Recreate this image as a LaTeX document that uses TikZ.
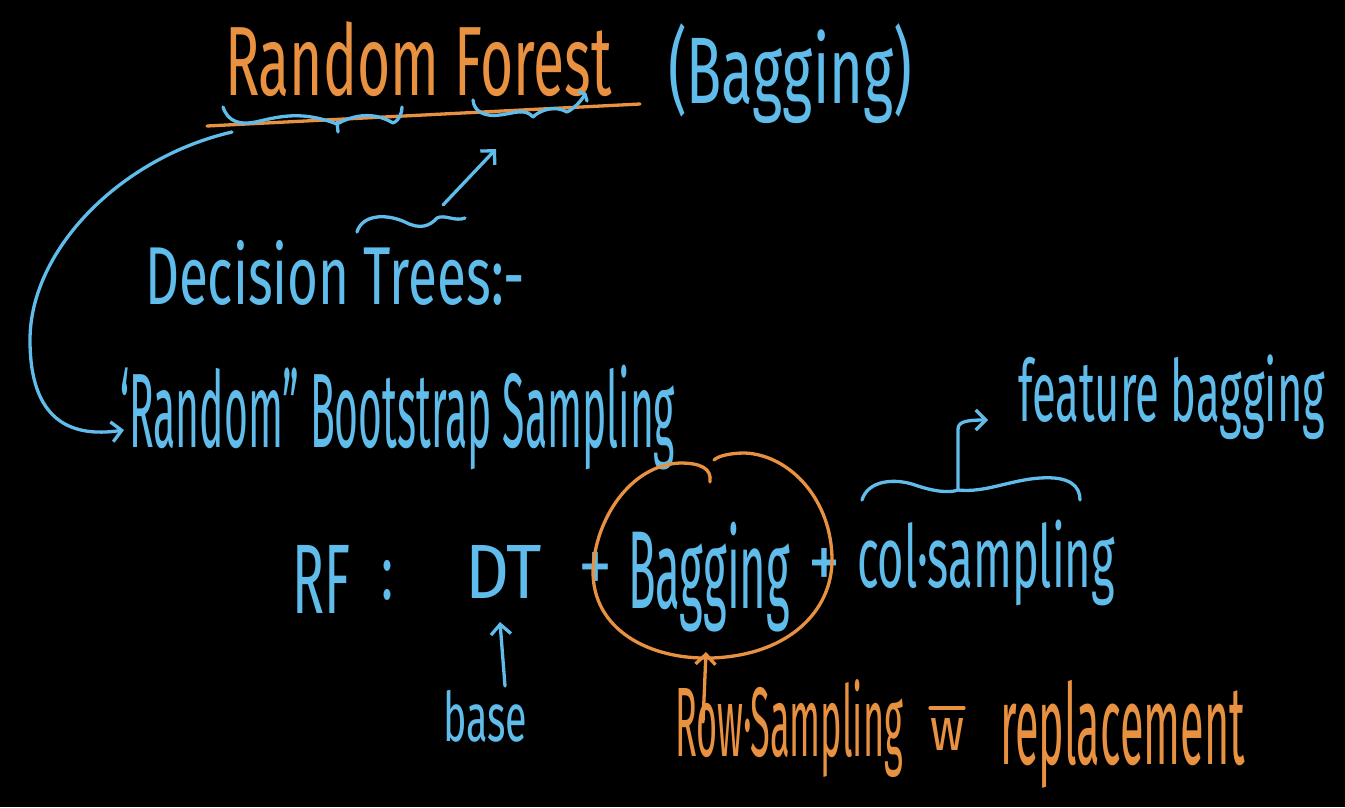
\documentclass[tikz,border=0pt]{standalone}
\usepackage{fontspec}
\usepackage{graphicx}
\setmainfont{Fira Sans}
\usetikzlibrary{arrows.meta}
\definecolor{chalkblue}{RGB}{96,188,234}
\definecolor{chalkorange}{RGB}{232,145,64}
\newcommand{\fitbox}[3]{\resizebox*{#1pt}{#2pt}{#3}}
\begin{document}
\begin{tikzpicture}[x=1pt,y=-1pt,
  txt/.style={inner sep=0pt,outer sep=0pt,anchor=north west},
  bluetxt/.style={txt,text=chalkblue},
  orangetxt/.style={txt,text=chalkorange},
  pen/.style={line width=3.3pt,line cap=round,line join=round},
  bluepen/.style={pen,draw=chalkblue},
  orangepen/.style={pen,draw=chalkorange},
  barb/.style={-{Straight Barb[length=10pt,width=20pt,line width=3.3pt]}}
]
\fill[black] (0,0) rectangle (1345,807);
\useasboundingbox (0,0) rectangle (1345,807);

% title
\node[orangetxt] (rf) at (225,22) {\fitbox{387}{75}{Random Forest}};
\node[bluetxt] (bag) at (668,24) {\fitbox{244}{100}{(Bagging)}};
\coordinate (ulA) at (207,126);
\coordinate (ulB) at (640,104);
\draw[orangepen] (ulA) -- (ulB);

% squiggles under Random and Forest
\draw[bluepen] (223,107) .. controls (228,122) and (240,126) .. (260,121)
  .. controls (285,115) and (305,112) .. (337,124)
  .. controls (355,114) and (375,112) .. (393,123)
  .. controls (400,120) and (402,112) .. (402,107);
\draw[bluepen] (337,122) -- (338,132);
\coordinate (fsq) at (585,94);
\draw[bluepen] (473,100) .. controls (474,112) and (485,117) .. (500,115)
  .. controls (515,113) and (525,108) .. (533,117)
  .. controls (540,110) and (555,105) .. (567,112)
  .. controls (575,108) and (582,100) .. (fsq);
\draw[bluepen] (579,92) -- (fsq) -- (587,101);

% Decision Trees
\node[bluetxt] (dt) at (145,240) {\fitbox{380}{65}{Decision Trees:-}};
\coordinate (sqA) at (357,232);
\coordinate (sqB) at (465,218);
\draw[bluepen] (sqA) .. controls (362,215) and (385,213) .. (405,222)
  .. controls (420,230) and (430,226) .. (437,218)
  .. controls (445,214) and (455,222) .. (sqB);
\coordinate (arA) at (443,205);
\coordinate (arB) at (496,149);
\draw[bluepen,barb] (arA) -- (arB);

% Random Bootstrap Sampling
\node[bluetxt] (boot) at (120,365) {\fitbox{555}{105}{`Random'' Bootstrap Sampling}};
\coordinate (cvA) at (232,132);
\coordinate (cvB) at (124,430);
\draw[bluepen,barb] (cvA) .. controls (120,158) and (30,250) .. (30,340)
  .. controls (30,420) and (70,438) .. (cvB);

% feature bagging
\node[bluetxt] (fb) at (1018,355) {\fitbox{307}{85}{feature bagging}};

% equation
\node[bluetxt] (eqrf) at (292,545) {\fitbox{58}{68}{RF}};
\node[bluetxt] (eqcolon) at (381,560) {\fitbox{12}{40}{:}};
\node[bluetxt] (eqdt) at (465,545) {\fitbox{77}{53}{DT}};
\node[bluetxt] (eqp1) at (578,552) {\fitbox{34}{40}{+}};
\node[bluetxt] (eqbag) at (628,522) {\fitbox{162}{110}{Bagging}};
\node[bluetxt] (eqp2) at (808,548) {\fitbox{32}{40}{+}};
\node[bluetxt] (eqcol) at (857,520) {\fitbox{258}{86}{col{\textperiodcentered}sampling}};

% orange circle around Bagging
\draw[orangepen] (710,482) .. controls (712,468) and (700,463) .. (680,463)
  .. controls (630,465) and (595,520) .. (593,570)
  .. controls (592,630) and (650,660) .. (712,658)
  .. controls (790,655) and (832,610) .. (832,560)
  .. controls (832,500) and (790,455) .. (745,453)
  .. controls (730,453) and (718,456) .. (714,460);

% brace over col.sampling with arrow to feature bagging
\coordinate (brL) at (862,500);
\coordinate (brM) at (958,490);
\coordinate (brR) at (1080,500);
\coordinate (brT) at (958,430);
\coordinate (brE) at (988,420);
\draw[bluepen] (brL) .. controls (868,480) and (895,478) .. (915,485)
  .. controls (935,492) and (950,493) .. (brM)
  .. controls (985,493) and (1010,480) .. (1040,478)
  .. controls (1070,476) and (1080,486) .. (brR);
\draw[bluepen,barb] (brM) -- (brT) .. controls (958,423) and (962,420) .. (brE);

% base
\node[bluetxt] (base) at (443,690) {\fitbox{84}{52}{base}};
\coordinate (baA) at (505,686);
\coordinate (baB) at (500,622);
\draw[bluepen,barb] (baA) -- (baB);

% Row sampling with replacement
\node[orangetxt] (row) at (675,680) {\fitbox{228}{98}{Row{\textperiodcentered}Sampling}};
\node[orangetxt] (with) at (930,718) {\fitbox{34}{32}{w}};
\draw[orangepen] ([yshift=10pt]with.north west) -- ([yshift=10pt]with.north east);
\node[orangetxt] (repl) at (1000,680) {\fitbox{245}{108}{replacement}};
\coordinate (roA) at (703,722);
\coordinate (roB) at (706,652);
\draw[orangepen,barb] (roA) -- (roB);
\end{tikzpicture}
\end{document}
